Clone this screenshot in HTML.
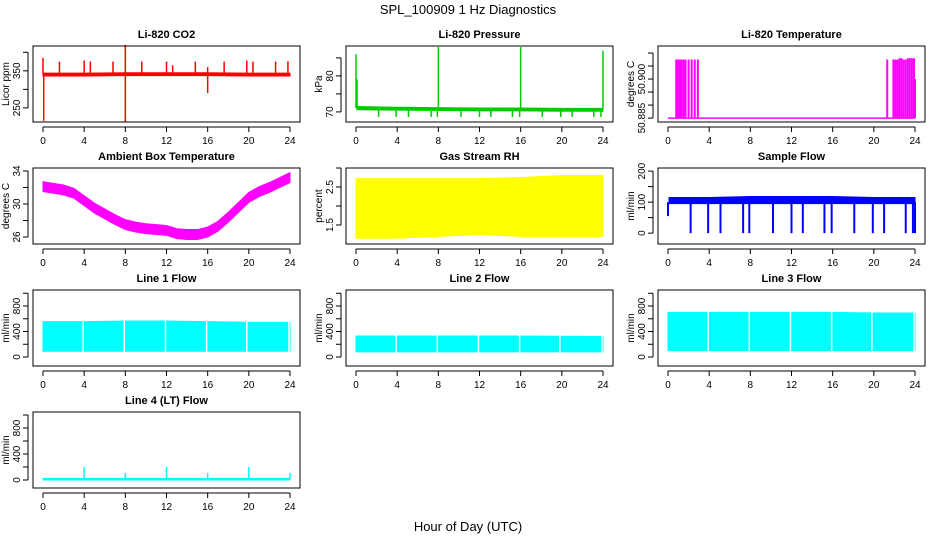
<!DOCTYPE html>
<html><head><meta charset="utf-8"><style>
html,body{margin:0;padding:0;background:#fff;}
svg{display:block;font-family:"Liberation Sans",sans-serif;}
</style></head><body>
<svg id="chart" width="936" height="540" viewBox="0 0 936 540" xmlns="http://www.w3.org/2000/svg">
<text x="468" y="14" text-anchor="middle" font-size="13">SPL_100909  1 Hz Diagnostics</text>
<text x="468" y="531" text-anchor="middle" font-size="13">Hour of Day (UTC)</text>
</svg>
<script>
// ---- data arrays ----
const xTicks = [0,4,8,12,16,20,24];
// CO2
const co2Hours = [0,4,8,12,16,20,24];
const co2Lo = [336,336,337,337,337,336,336];
const co2Hi = [344,344,345,345,345,344,344];
const co2SpikeT = [0,0.07,1.6,4,4.6,6.8,8,8,9.6,12,12.6,14.8,16,16,17.6,19.8,20.4,22.6,23.8];
const co2SpikeV = [385,215,375,378,375,375,420,212,375,375,365,375,290,360,375,378,375,375,376];
// Pressure
const presHours = [0.1,4,8,12,16,20,24];
const presLo = [70.6,70.5,70.4,70.3,70.3,70.2,70.2];
const presHi = [71.5,71.3,71.2,71.1,71.1,71.0,71.0];
const presSpikeT = [0,0.1,8,16,24,2.2,3.9,5.1,7.3,7.9,10.2,12,13.1,15.2,15.9,18.1,19.9,21,23.1,23.8];
const presSpikeV = [86,79,88,88,87,68.6,68.6,68.6,68.6,68.6,68.6,68.6,68.6,68.6,68.6,68.6,68.6,68.6,68.6,68.6];
// Li-820 temperature
const tempHours = [0,24];
const tempLo = [50.885,50.885];
const tempHi = [50.885,50.885];
const tempSpikeT = [0.8,0.9,1.0,1.1,1.2,1.3,1.5,1.7,2.0,2.3,2.6,2.9,21.3,21.9,22.1,22.3,22.5,22.7,22.9,23.1,23.3,23.5,23.7,23.9,24.0];
const tempSpikeV = [50.9075,50.9075,50.9075,50.9075,50.9075,50.9075,50.9075,50.9075,50.9075,50.9075,50.9075,50.9075,50.9075,50.9075,50.9075,50.9075,50.908,50.908,50.9075,50.9075,50.908,50.908,50.908,50.908,50.9];
// Ambient box temperature
const ambHours = [0,1,2,3,4,5,6,7,8,9,10,11,12,13,14,15,16,17,18,19,20,21,22,23,24];
const ambMid = [32.1,31.9,31.7,31.3,30.4,29.5,28.8,28.1,27.5,27.2,27.0,26.9,26.8,26.4,26.3,26.3,26.6,27.3,28.4,29.6,30.8,31.5,32.0,32.6,33.2];
// Gas stream RH
const rhHours = [0,4,8,12,16,20,24];
const rhLo = [1.15,1.15,1.2,1.25,1.2,1.2,1.2];
const rhHi = [2.72,2.72,2.72,2.72,2.75,2.8,2.8];
// Sample flow
const sfHours = [0.1,4,8,12,16,20,24];
const sfLo = [95,95,95,95,95,95,95];
const sfHi = [115,115,118,118,118,115,115];
const sfSpikeT = [0,2.2,3.9,5.1,7.3,7.9,10.2,12,13.1,15.2,15.9,18.1,19.9,21,23.1,23.8,24];
const sfSpikeV = [55,0,0,0,0,0,0,0,0,0,0,0,0,0,0,0,0];
// Line flows
const flowHours = [0,4,8,12,16,20,24];
const l1Lo = [90,90,90,90,90,90,90];
const l1Hi = [555,555,565,565,555,545,545];
const l2Lo = [80,80,80,80,80,80,80];
const l2Hi = [330,330,330,330,330,325,320];
const l3Lo = [100,100,100,100,100,100,100];
const l3Hi = [700,700,700,700,700,690,690];
const l4Lo = [0,0,0,0,0,0,0];
const l4Hi = [25,25,25,25,25,25,25];
const gapT = [3.9,7.9,11.9,15.9,19.8,23.9];
const l4SpikeT = [4,8,12,16,20,24];
const l4SpikeV = [200,110,200,110,200,110];

// ---- layout ----
const svg = document.getElementById('chart');
const NS = 'http://www.w3.org/2000/svg';
const colX = [33,346,658], rowY = [46,168,290,412], W = 267, H = 76;
function mk(tag, attrs, parent){
  const e = document.createElementNS(NS, tag);
  for (const k in attrs) e.setAttribute(k, attrs[k]);
  (parent||svg).appendChild(e); return e;
}
function panel(name, c, r, title, ylab, ymin, ymax, yTicks, yLabels, color, draw){
  const g = mk('g', {});
  
  
  const L = colX[c], T = rowY[r];
  const sx = v => L + 10 + v * (W - 20) / 24;
  const sy = v => T + H - (v - ymin) / (ymax - ymin) * H;
  const t = mk('text', {x: L + W/2, y: T - 8, 'text-anchor':'middle', 'font-size':11, 'font-weight':'bold'}, g);
  t.textContent = title;
  
  
  const dg = mk('g', {fill: color, stroke: color}, g);
  
  
  draw(dg, sx, sy);
  const box = mk('rect', {x:L, y:T, width:W, height:H, fill:'none', stroke:'#000', 'stroke-width':1}, g);
  
  
  // x axis
  const xa = mk('g', {stroke:'#000'}, g);
  
  
  mk('line', {x1:sx(0), x2:sx(24), y1:T+H+5, y2:T+H+5}, xa);
  xTicks.forEach(v => {
    mk('line', {x1:sx(v), x2:sx(v), y1:T+H+5, y2:T+H+10}, xa);
    const tl = mk('text', {x:sx(v), y:T+H+22, 'text-anchor':'middle', 'font-size':10, stroke:'none', fill:'#000'}, xa);
    tl.textContent = v;
  });
  // y axis
  const ya = mk('g', {stroke:'#000'}, g);
  
  
  mk('line', {x1:L-5, x2:L-5, y1:sy(yTicks[0]), y2:sy(yTicks[yTicks.length-1])}, ya);
  yTicks.forEach(v => mk('line', {x1:L-5, x2:L-10, y1:sy(v), y2:sy(v)}, ya));
  yLabels.forEach(v => {
    const y = sy(parseFloat(v));
    const tl = mk('text', {x:L-13, y:y, 'text-anchor':'middle', 'font-size':10, stroke:'none', fill:'#000', transform:`rotate(-90 ${L-13} ${y})`}, ya);
    tl.textContent = v;
  });
  const yt = mk('text', {x:L-24, y:T+H/2, 'text-anchor':'middle', 'font-size':10, fill:'#000', transform:`rotate(-90 ${L-24} ${T+H/2})`}, g);
  yt.textContent = ylab;
  
  
}
function band(g, sx, sy, hrs, lo, hi){
  let d = 'M' + hrs.map((h,i)=>sx(h)+','+sy(hi[i])).join(' L');
  for (let i = hrs.length-1; i >= 0; i--) d += ' L' + sx(hrs[i]) + ',' + sy(lo[i]);
  const p = mk('path', {d: d + 'Z', 'stroke-width':1}, g);
  
  
}
function spikes(g, sx, sy, ts, vs, base, w){
  ts.forEach((t,i) => {
    const l = mk('line', {x1:sx(t), x2:sx(t), y1:sy(base), y2:sy(vs[i]), 'stroke-width':w||1.5}, g);
    
    
  });
}
function gaps(g, sx, sy, lo, hi){
  gapT.forEach(t => {
    const l = mk('line', {x1:sx(t), x2:sx(t), y1:sy(hi), y2:sy(lo), stroke:'#fff', 'stroke-width':1.5}, g);
    
    
  });
}
const interp = (hrs, arr, t) => { for (let i=1;i<hrs.length;i++) if (t<=hrs[i]) { const f=(t-hrs[i-1])/(hrs[i]-hrs[i-1]); return arr[i-1]+f*(arr[i]-arr[i-1]); } return arr[arr.length-1]; };

panel('co2', 0, 0, 'Li-820 CO2', 'Licor ppm', 212, 417, [250,300,350,400], ['250','350'], '#ff0000', (g,sx,sy)=>{
  band(g,sx,sy,co2Hours,co2Lo,co2Hi); spikes(g,sx,sy,co2SpikeT,co2SpikeV,340);
});
panel('pressure', 1, 0, 'Li-820 Pressure', 'kPa', 67.2, 88.3, [70,75,80,85], ['70','80'], '#00cc00', (g,sx,sy)=>{
  band(g,sx,sy,presHours,presLo,presHi); spikes(g,sx,sy,presSpikeT,presSpikeV,71,1.5);
});
panel('li820-temperature', 2, 0, 'Li-820 Temperature', 'degrees C', 50.8835, 50.9127, [50.885,50.89,50.895,50.9,50.905,50.91], ['50.885','50.900'], '#ff00ff', (g,sx,sy)=>{
  const l = mk('line', {x1:sx(0), x2:sx(24), y1:sy(50.885), y2:sy(50.885), 'stroke-width':1.5}, g);
  spikes(g,sx,sy,tempSpikeT,tempSpikeV,50.885,2);
});
panel('ambient-temperature', 0, 1, 'Ambient Box Temperature', 'degrees C', 25.15, 34.36, [26,28,30,32,34], ['26','30','34'], '#ff00ff', (g,sx,sy)=>{
  band(g,sx,sy,ambHours,ambMid.map(v=>v-0.6),ambMid.map(v=>v+0.6));
});
panel('rh', 1, 1, 'Gas Stream RH', 'percent', 1.0, 3.0, [1.5,2,2.5,3], ['1.5','2.5'], '#ffff00', (g,sx,sy)=>{
  band(g,sx,sy,rhHours,rhLo,rhHi);
});
panel('sample-flow', 2, 1, 'Sample Flow', 'ml/min', -35, 210, [0,50,100,150,200], ['0','100','200'], '#0000ff', (g,sx,sy)=>{
  band(g,sx,sy,sfHours,sfLo,sfHi); spikes(g,sx,sy,sfSpikeT,sfSpikeV,100,2);
});
const flowTicks = [0,200,400,600,800,1000], flowLabels = ['0','400','800'];
panel('line1-flow', 0, 2, 'Line 1 Flow', 'ml/min', -141, 1051, flowTicks, flowLabels, '#00ffff', (g,sx,sy)=>{
  band(g,sx,sy,flowHours,l1Lo,l1Hi); gaps(g,sx,sy,80,600);
});
panel('line2-flow', 1, 2, 'Line 2 Flow', 'ml/min', -141, 1051, flowTicks, flowLabels, '#00ffff', (g,sx,sy)=>{
  band(g,sx,sy,flowHours,l2Lo,l2Hi); gaps(g,sx,sy,70,350);
});
panel('line3-flow', 2, 2, 'Line 3 Flow', 'ml/min', -141, 1051, flowTicks, flowLabels, '#00ffff', (g,sx,sy)=>{
  band(g,sx,sy,flowHours,l3Lo,l3Hi); gaps(g,sx,sy,90,720);
});
panel('line4-flow', 0, 3, 'Line 4 (LT) Flow', 'ml/min', -123, 1046, flowTicks, flowLabels, '#00ffff', (g,sx,sy)=>{
  band(g,sx,sy,flowHours,l4Lo,l4Hi); spikes(g,sx,sy,l4SpikeT,l4SpikeV,10,1.5);
});
</script>
</body></html>
